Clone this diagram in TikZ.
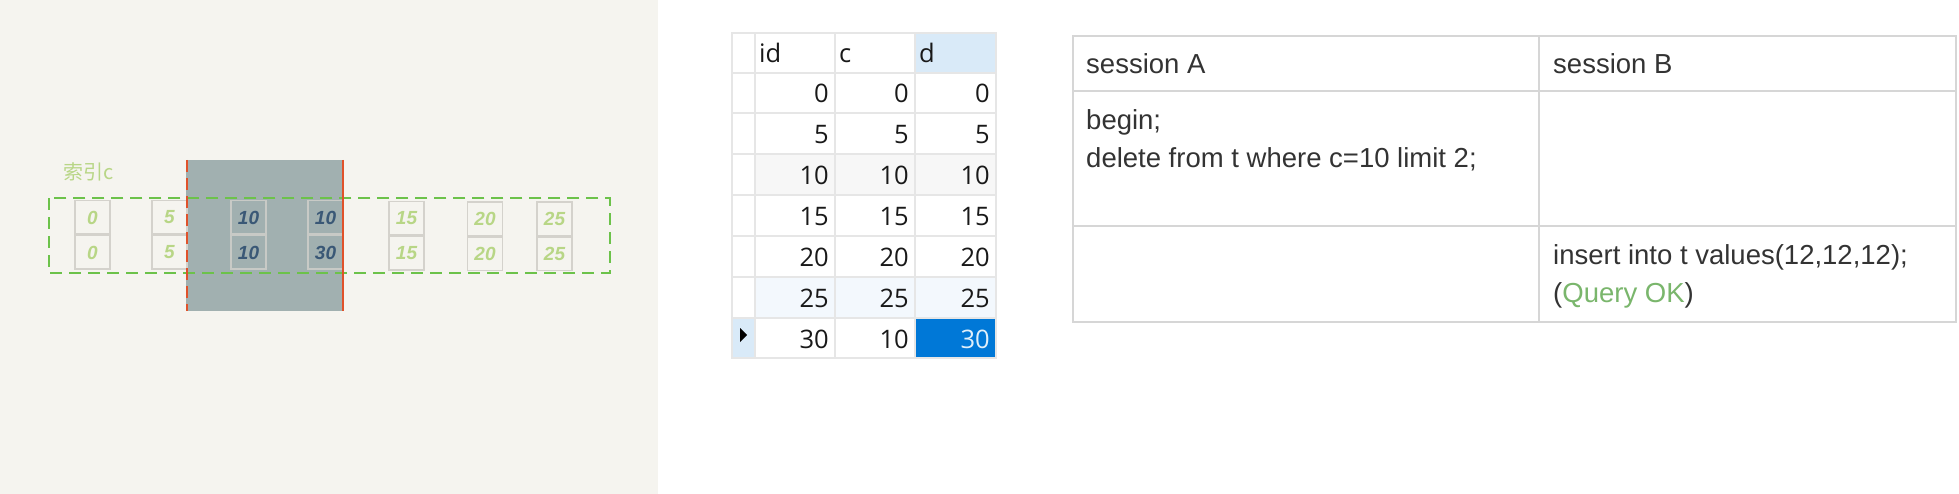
\documentclass[tikz,border=0pt]{standalone}
\usepackage{fontspec}
\setmainfont{Liberation Sans}
\newfontfamily\tblfont{Open Sans}
\newfontfamily\cjk{Noto Sans CJK SC}
\definecolor{bgbeige}{RGB}{245,244,239}
\definecolor{blockgray}{RGB}{161,176,176}
\definecolor{cellline}{RGB}{212,210,204}
\definecolor{cellinner}{RGB}{200,202,198}
\definecolor{handgreen}{RGB}{184,214,134}
\definecolor{handdark}{RGB}{58,88,118}
\definecolor{dashgreen}{RGB}{108,194,74}
\definecolor{redorange}{RGB}{224,82,42}
\definecolor{gridgray}{RGB}{230,230,230}
\definecolor{hdrblue}{RGB}{217,234,248}
\definecolor{rowblue}{RGB}{243,248,253}
\definecolor{rowgray}{RGB}{247,247,247}
\definecolor{selblue}{RGB}{0,120,215}
\definecolor{tblline}{RGB}{214,214,214}
\definecolor{okgreen}{RGB}{122,182,108}
\newcommand\handfont{\bfseries\itshape\fontsize{19}{19}\selectfont}
\tikzset{
  hcell/.style={draw=cellline, line width=1.5pt, minimum width=35pt, minimum height=33.5pt, inner sep=0pt, font=\handfont, text=handgreen},
  dcell/.style={hcell, draw=cellinner, text=handdark},
  tnum/.style={anchor=base east, inner sep=0pt, font=\tblfont\fontsize{25.5}{25.5}\selectfont, text=black!90},
  thdr/.style={anchor=base west, inner sep=0pt, font=\tblfont\fontsize{25.5}{25.5}\selectfont, text=black!90},
  stxt/.style={anchor=base west, inner sep=0pt, font=\fontsize{27.5}{27.5}\selectfont, text=black!80},
}
\begin{document}
\begin{tikzpicture}[x=1pt,y=-1pt]
\useasboundingbox (0,0) rectangle (1959,494);
\fill[white] (0,0) rectangle (1959,494);
\fill[bgbeige] (0,0) rectangle (658,494);

% ---- left panel ----
\fill[blockgray] (186,160) rectangle (343,311);
\node[font=\cjk\fontsize{20}{20}\selectfont, text=handgreen, inner sep=0pt] (lbl) at (89,172) {索引c};
\foreach \n/\cx/\cy/\a/\b/\s in {c0/92.5/235/0/0/hcell, c5/169.5/235/5/5/hcell, c10a/248.5/235/10/10/dcell, c10b/325.5/235/10/30/dcell, c15/406.5/236/15/15/hcell, c20/485/236.5/20/20/hcell, c25/554.5/236.5/25/25/hcell}{
  \node[\s, anchor=south] (\n t) at (\cx,\cy) {\a};
  \node[\s, anchor=north] (\n b) at (\cx,\cy) {\b};
}
\draw[dashgreen, line width=2pt, dash pattern=on 12pt off 7pt] (48.6,198.5) rectangle (610,273);
\draw[redorange, line width=2pt, dash pattern=on 12pt off 6pt] (187,160) -- (187,311);
\draw[redorange, line width=2pt] (343,160) -- (343,311);

% ---- middle table ----
\fill[hdrblue] (915,33) rectangle (996,73);
\fill[rowgray] (755,154) rectangle (996,195);
\fill[rowblue] (755,277) rectangle (996,318);
\fill[hdrblue] (732,318) rectangle (755,358);
\fill[selblue] (915,318) rectangle (996,358);
\foreach \y in {73,113,154,195,236,277,318}{
  \draw[gridgray, line width=1.5pt] (732,\y) -- (996,\y);
}
\foreach \x in {755,835,915}{
  \draw[gridgray, line width=1.5pt] (\x,33) -- (\x,358);
}
\draw[gridgray, line width=1.5pt] (732,33) rectangle (996,358);
\node[thdr] (hid) at (759,63) {id};
\node[thdr] (hc) at (839,63) {c};
\node[thdr] (hd) at (919,63) {d};
\foreach \i/\a/\b/\c in {1/0/0/0,2/5/5/5,3/10/10/10,4/15/15/15,5/20/20/20,6/25/25/25}{
  \pgfmathsetmacro\yb{73+(\i-1)*40.8+30}
  \node[tnum] (id\i) at (829,\yb) {\a};
  \node[tnum] (c\i) at (909,\yb) {\b};
  \node[tnum] (d\i) at (990,\yb) {\c};
}
\node[tnum] (id7) at (829,348) {30};
\node[tnum] (c7) at (909,348) {10};
\node[tnum, text=white!88!selblue] (d7) at (990,348) {30};
\fill[black] (740,328) -- (747,335) -- (740,342) -- cycle;

% ---- right table ----
\draw[tblline, line width=2pt] (1073,36) rectangle (1956,322);
\draw[tblline, line width=2pt] (1073,91.5) -- (1956,91.5);
\draw[tblline, line width=2pt] (1073,226) -- (1956,226);
\draw[tblline, line width=2pt] (1539,36) -- (1539,322);
\node[stxt] (sa) at (1086,74) {session A};
\node[stxt] (sb) at (1553,74) {session B};
\node[stxt] (a1) at (1086,130) {begin;};
\node[stxt] (a2) at (1086,168) {delete from t where c=10 limit 2;};
\node[stxt] (b1) at (1553,265) {insert into t values(12,12,12);};
\node[stxt] (b2) at (1553,302) {(\textcolor{okgreen}{Query OK})};
\end{tikzpicture}
\end{document}
